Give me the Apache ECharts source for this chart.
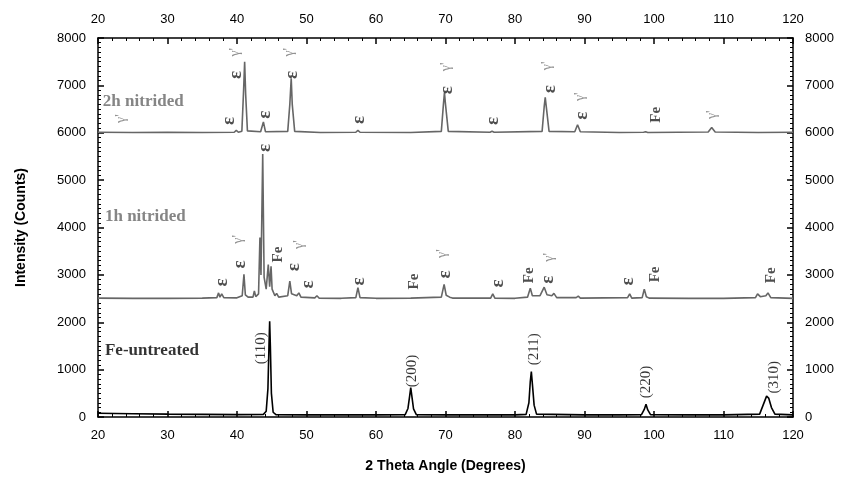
<!DOCTYPE html>
<html>
<head>
<meta charset="utf-8">
<script src="https://cdn.jsdelivr.net/npm/echarts@6/dist/echarts.min.js"></script>
<style>html,body{margin:0;padding:0;background:#fff}#c{width:848px;height:478px}</style>
</head>
<body>
<div id="c"></div>
<script>
// ---- Data (plotted intensities, counts; stacked offsets as shown) ----
var untreated = [[20,80],[25,70],[30,60],[35,55],[40,50],[43.8,55],[44.2,120],[44.45,600],[44.6,1500],[44.7,2020],[44.8,1500],[44.95,500],[45.2,100],[45.6,50],[50,45],[55,45],[60,45],[64.2,50],[64.6,180],[64.85,450],[65.0,620],[65.15,450],[65.4,170],[65.8,50],[70,45],[75,45],[80,45],[81.6,55],[82.0,300],[82.2,750],[82.35,960],[82.5,700],[82.75,250],[83.1,60],[90,45],[95,45],[98.2,50],[98.6,160],[98.85,270],[99.1,150],[99.5,50],[105,45],[110,45],[115.2,60],[115.7,250],[116.2,440],[116.5,400],[116.9,200],[117.4,60],[120,45]];

var nitrided1h = [[20,2510],[25,2505],[30,2505],[35,2510],[37.1,2520],[37.35,2620],[37.55,2530],[37.8,2600],[38.1,2520],[40,2515],[40.75,2560],[41.0,3010],[41.2,2580],[41.6,2530],[42.3,2530],[42.5,2660],[42.7,2540],[43.1,2600],[43.3,3790],[43.45,3000],[43.7,5550],[43.9,2950],[44.2,2700],[44.5,3220],[44.7,2750],[44.9,3180],[45.05,2700],[45.25,2660],[45.45,2560],[45.7,2610],[46,2530],[47.3,2560],[47.6,2870],[47.85,2600],[48.6,2560],[48.9,2620],[49.2,2530],[51.2,2515],[51.5,2560],[51.8,2510],[55,2505],[57.1,2520],[57.4,2730],[57.7,2520],[60,2505],[65,2510],[69.4,2530],[69.8,2800],[70.1,2570],[70.6,2530],[71,2510],[76.5,2510],[76.8,2600],[77.1,2510],[80,2505],[81.8,2530],[82.2,2720],[82.5,2560],[83.6,2560],[84.2,2740],[84.6,2580],[85.3,2560],[85.6,2610],[86,2520],[88.8,2520],[89.1,2550],[89.4,2510],[96.2,2520],[96.5,2600],[96.8,2510],[98.3,2520],[98.6,2700],[98.9,2540],[99.3,2510],[105,2505],[110,2505],[114.6,2520],[114.9,2600],[115.3,2540],[116.1,2560],[116.4,2620],[116.8,2520],[120,2505]];

var nitrided2h = [[20,6010],[25,6005],[30,6010],[35,6005],[39.6,6010],[39.9,6050],[40.2,6010],[40.7,6030],[40.95,6900],[41.1,7500],[41.25,6800],[41.5,6040],[43.4,6020],[43.8,6230],[44.1,6020],[47.3,6030],[47.6,6600],[47.8,7150],[47.95,6600],[48.3,6030],[52,6005],[57.1,6010],[57.4,6050],[57.7,6010],[65,6005],[69.4,6030],[69.7,6600],[69.85,6850],[70.0,6600],[70.4,6030],[76.4,6010],[76.7,6030],[77,6010],[83.9,6030],[84.2,6550],[84.35,6750],[84.5,6550],[84.9,6030],[88.6,6020],[89.0,6170],[89.4,6020],[95,6005],[98.5,6010],[98.8,6020],[99.1,6005],[107.8,6015],[108.3,6110],[108.8,6015],[115,6005],[120,6010]];

// annotations: [x, y] position of label centre
var epsLabels = [[38.9,6250],[39.8,7220],[44.1,6380],[47.9,7220],[57.6,6270],[70.2,6900],[76.9,6250],[85.0,6920],[89.7,6360],
                 [37.8,2840],[40.5,3220],[44.0,5680],[48.2,3160],[50.3,2800],[57.6,2860],[70.0,3010],[77.5,2820],[84.7,2900],[96.3,2860]];
var gammaLabels = [[23.3,6300],[39.8,7700],[47.5,7700],[70.1,7390],[84.7,7410],[89.4,6760],[108.4,6380],
                   [40.2,3750],[48.9,3640],[69.6,3450],[84.9,3370]];
var feLabels = [[100.3,6380],[45.9,3430],[65.5,2860],[82.0,2990],[100.2,3010],[116.8,2990]];
var hklLabels = [[43.4,1450,'(110)'],[65.2,970,'(200)'],[82.7,1430,'(211)'],[98.8,740,'(220)'],[117.3,840,'(310)']];
var sampleLabels = [[20.7,6650,'2h nitrided'],[21.0,4230,'1h nitrided'],[21.0,1410,'Fe-untreated']];
var xTicks = {min:20, max:120, interval:10};
var yTicks = {min:0, max:8000, interval:1000};

var chart = echarts.init(document.getElementById('c'));
var serif = '"Liberation Serif","DejaVu Serif",serif';
var sans = '"Liberation Sans",Arial,sans-serif';

function labelSeries(data, text, opts) {
  return {
    type:'scatter', symbolSize:0, silent:true, z:5,
    data:data.map(function(d){return [d[0], d[1], d[2]||text];}),
    label:Object.assign({show:true, position:'inside', formatter:function(p){return p.data[2];}}, opts)
  };
}
function axisCommon(pos, t, showLabel) {
  return {
    type:'value', position:pos, min:t.min, max:t.max, interval:t.interval,
    axisLine:{show:true, onZero:false, lineStyle:{color:'#000', width:1.5}},
    axisTick:{show:true, inside:true, length:6, lineStyle:{color:'#000', width:1.5}},
    minorTick:{show:true, splitNumber: pos==='left'||pos==='right' ? 10 : 5, length:3, lineStyle:{color:'#000', width:1}},
    splitLine:{show:false},
    axisLabel:{show:showLabel, color:'#000', fontSize:13, fontFamily:sans, margin:12,
               formatter:function(v){return String(v);}}
  };
}

var xb = axisCommon('bottom', xTicks, true);
xb.name = '2 Theta Angle (Degrees)'; xb.nameLocation='middle'; xb.nameGap=42;
xb.nameTextStyle = {fontSize:14, fontWeight:'bold', fontFamily:sans, color:'#000'};
var xt = axisCommon('top', xTicks, true);
var yl = axisCommon('left', yTicks, true);
yl.name = 'Intensity (Counts)'; yl.nameLocation='middle'; yl.nameGap=70;
yl.nameTextStyle = {fontSize:14, fontWeight:'bold', fontFamily:sans, color:'#000'};
var yr = axisCommon('right', yTicks, true);

var option = {
  animation:false,
  backgroundColor:'#fff',
  grid:{left:98, right:55, top:38, bottom:60},
  xAxis:[xb, xt],
  yAxis:[yl, yr],
  series:[
    {type:'line', data:untreated, showSymbol:false, lineStyle:{color:'#000', width:1.6}, z:3},
    {type:'line', data:nitrided1h, showSymbol:false, lineStyle:{color:'#666', width:1.6}, z:3},
    {type:'line', data:nitrided2h, showSymbol:false, lineStyle:{color:'#666', width:1.6}, z:3},
    labelSeries(epsLabels, 'ε', {rotate:90, color:'#222', fontSize:19, fontWeight:'bold', fontFamily:serif}),
    labelSeries(gammaLabels, "γ'", {rotate:90, color:'#777', fontSize:14, fontFamily:serif}),
    labelSeries(feLabels, 'Fe', {rotate:90, color:'#222', fontSize:15, fontWeight:'bold', fontFamily:serif}),
    labelSeries(hklLabels, '', {rotate:90, color:'#000', fontSize:15, fontFamily:serif}),
    {type:'scatter', symbolSize:0, silent:true, z:5,
     data:sampleLabels.map(function(d,i){return {value:[d[0],d[1],d[2]], label:{color: i<2 ? '#666' : '#000'}};}),
     label:{show:true, position:'right', distance:0, formatter:function(p){return p.data.value[2];},
            fontSize:17, fontWeight:'bold', fontFamily:serif}}
  ]
};
chart.setOption(option);
</script>
</body>
</html>
